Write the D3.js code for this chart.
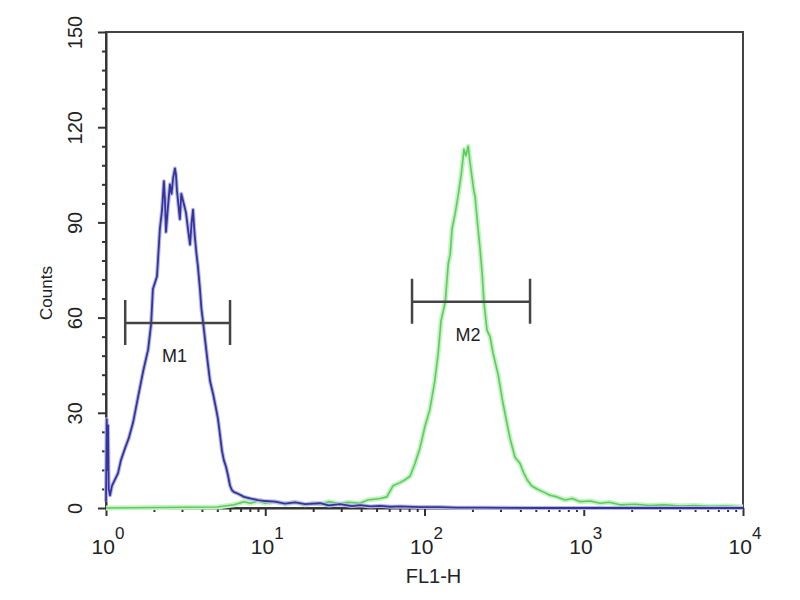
<!DOCTYPE html>
<html>
<head>
<meta charset="utf-8">
<script src="https://cdn.jsdelivr.net/npm/d3@7"></script>
<style>
  body { margin: 0; background: #fff; }
  svg { font-family: "Liberation Sans", Arial, sans-serif; }
  .axis path, .axis line { stroke: #333; stroke-width: 2px; }
  .axis text { fill: #222; font-size: 20px; }
</style>
</head>
<body>
<div id="chart-area"></div>
<script>
// FL1-H values (linear units) and counts
const blueFL = [1.00, 1.01, 1.02, 1.03, 1.04, 1.06, 1.09, 1.14, 1.19, 1.24, 1.32, 1.39, 1.48, 1.59, 1.71,
  1.84, 1.92, 1.97, 2.03, 2.09, 2.18, 2.25, 2.31, 2.35, 2.38, 2.45, 2.52, 2.58, 2.64, 2.71, 2.75, 2.79,
  2.83, 2.91, 2.97, 3.04, 3.11, 3.18, 3.27, 3.37, 3.45, 3.52, 3.58, 3.62, 3.70, 3.78, 3.89, 3.97, 4.06,
  4.19, 4.35, 4.50, 4.70, 4.88, 5.05, 5.20, 5.35, 5.50, 5.67, 5.85, 6.01, 6.20, 6.37, 6.75, 7.36, 8.02,
  9.0, 9.96, 11.5, 13.3, 15.4, 17.8, 22.1, 25, 29.5, 35, 39.4, 46, 52.6, 61, 70.2, 93.7, 125, 160, 223,
  531, 1265, 5370, 10000];
const blueCounts = [2, 28, 12, 26, 6, 4, 7, 9, 11, 15, 19, 22, 27, 35, 43,
  50, 58, 69, 71, 73, 88, 94, 103, 96, 87, 95, 102, 99, 104, 107, 105, 100,
  97, 91, 99, 97, 95, 93, 88, 83, 90, 94, 88, 85, 80, 76, 69, 63, 59,
  53, 46, 40, 36, 32, 28, 23, 18, 15, 13, 10, 7, 5.5, 5, 4.5, 3.5, 3,
  2.5, 2.2, 2, 1.4, 1.8, 1.2, 1.5, 0.8, 1.2, 0.6, 0.9, 0.5, 0.7, 0.4, 0.5, 0.3, 0.3, 0.1, 0.1,
  0, 0, 0, 0];

const greenFL = [1, 5, 6.37, 7.36, 8.02, 9.0, 9.96, 11.5, 13.3, 15.4, 17.8, 20, 22.1, 25, 29.5, 33,
  39.4, 44, 52.6, 58, 63.4, 70.2, 76, 81.1, 87.2, 93.7, 101, 108, 116, 122, 127, 131, 135, 141, 145,
  149, 156, 162, 170, 177, 182, 188, 193, 199, 204, 208, 214, 223, 230, 236, 247, 258, 269, 290, 311,
  344, 370, 398, 420, 440, 470, 509, 560, 614, 680, 763, 850, 947, 1100, 1265, 1450, 1690, 2100, 2607,
  3200, 4020, 5000, 6200, 8000, 10000];
const greenCounts = [0, 0.3, 1, 2, 1.5, 2.2, 1.5, 2, 1.2, 1.8, 1, 1.6, 1.2, 2, 1.3, 1.8,
  1.5, 2.5, 3, 3.5, 7, 8, 9, 10, 14, 19, 26, 31, 40, 49, 59, 62, 65, 77, 80,
  88, 93, 98, 105, 113, 111, 114, 109, 104, 100, 98, 91, 82, 74, 65, 56, 54, 49, 42, 33,
  22, 16, 14, 11, 9, 7, 6, 5, 4, 3.5, 2.5, 3, 2, 2.2, 1.5, 1.8, 1, 1.2, 0.8,
  1, 0.6, 0.8, 0.5, 0.6, 0.3];

// gate markers: name, from, to, level
const markerNames = ["M1", "M2"];
const markerFrom = [1.32, 83.5];
const markerTo = [6.01, 460];
const markerLevel = [58.3, 65];

const yTickValues = [0, 30, 60, 90, 120, 150];
const xDecades = [1, 10, 100, 1000, 10000];
const xExponents = ["0", "1", "2", "3", "4"];
const xLabel = "FL1-H";
const yLabel = "Counts";

const MARGIN = {LEFT: 106, RIGHT: 57, TOP: 32, BOTTOM: 92};
const WIDTH = 800 - MARGIN.LEFT - MARGIN.RIGHT;
const HEIGHT = 600 - MARGIN.TOP - MARGIN.BOTTOM;

const svg = d3.select("#chart-area").append("svg")
    .attr("width", 800)
    .attr("height", 600);
const graph = svg.append("g")
    .attr("transform", `translate(${MARGIN.LEFT}, ${MARGIN.TOP})`);

const x = d3.scaleLog().domain([1, 10000]).range([0, WIDTH]);
const y = d3.scaleLinear().domain([0, 150]).range([HEIGHT, 0]);

// frame (top + right)
graph.append("rect")
    .attr("width", WIDTH).attr("height", HEIGHT)
    .attr("fill", "none").attr("stroke", "#444").attr("stroke-width", 2);

// y axis: minor every 6, majors every 30
const yMinor = d3.range(0, 151, 6);
const yAxis = graph.append("g").attr("class", "axis")
    .call(d3.axisLeft(y).tickValues(yMinor).tickSize(4).tickSizeOuter(0)
        .tickFormat(d => yTickValues.includes(d) ? d : ""));
yAxis.selectAll(".tick line").attr("x2", d => yTickValues.includes(d) ? -8 : -4);
yAxis.selectAll(".tick text")
    .attr("transform", "rotate(-90)")
    .attr("x", 0).attr("y", -24).attr("dy", 0)
    .style("text-anchor", "middle");

// x axis: minor ticks 2..9 in each decade
const xMinor = [];
xDecades.slice(0, -1).forEach(dec => d3.range(1, 10).forEach(k => xMinor.push(dec * k)));
xMinor.push(10000);
const xAxis = graph.append("g").attr("class", "axis")
    .attr("transform", `translate(0, ${HEIGHT})`)
    .call(d3.axisBottom(x).tickValues(xMinor).tickSize(4).tickSizeOuter(0).tickFormat(""));
xAxis.selectAll(".tick line").attr("y2", d => xDecades.includes(d) ? 8 : 4);

const xLabels = graph.append("g").selectAll("text")
    .data(xDecades)
    .join("text")
    .attr("x", d => x(d) + 2)
    .attr("y", HEIGHT + 46)
    .attr("fill", "#222")
    .style("font-size", "21px")
    .style("text-anchor", "middle");
xLabels.append("tspan").text("10");
xLabels.append("tspan")
    .attr("dy", -15)
    .style("font-size", "17px")
    .text((d, i) => xExponents[i]);

// axis titles
graph.append("text")
    .attr("x", WIDTH / 2 + 9)
    .attr("y", HEIGHT + 75)
    .attr("fill", "#222")
    .style("font-size", "20px")
    .style("text-anchor", "middle")
    .text(xLabel);

graph.append("text")
    .attr("transform", "rotate(-90)")
    .attr("x", -(HEIGHT / 2 + 23))
    .attr("y", -54)
    .attr("fill", "#222")
    .style("font-size", "17px")
    .style("text-anchor", "middle")
    .text(yLabel);

// histograms
const line = d3.line()
    .x(d => x(d[0]))
    .y(d => y(d[1]));

const green = d3.zip(greenFL, greenCounts);
const blue = d3.zip(blueFL, blueCounts);

graph.append("path")
    .attr("d", line(green))
    .attr("fill", "none")
    .attr("stroke", "#c6f2c6")
    .attr("stroke-width", 5)
    .attr("stroke-linejoin", "round");
graph.append("path")
    .attr("d", line(green))
    .attr("fill", "none")
    .attr("stroke", "#5ccc5c")
    .attr("stroke-width", 1.6)
    .attr("stroke-linejoin", "round");

graph.append("path")
    .attr("d", line(blue))
    .attr("fill", "none")
    .attr("stroke", "#b8b8e6")
    .attr("stroke-width", 4)
    .attr("stroke-linejoin", "round");
graph.append("path")
    .attr("d", line(blue))
    .attr("fill", "none")
    .attr("stroke", "#34349a")
    .attr("stroke-width", 1.8)
    .attr("stroke-linejoin", "round");

// gate markers
const markers = graph.append("g").selectAll("g")
    .data(markerNames)
    .join("g")
    .attr("stroke", "#444")
    .attr("stroke-width", 2.5);
markers.append("line")
    .attr("x1", (d, i) => x(markerFrom[i])).attr("x2", (d, i) => x(markerTo[i]))
    .attr("y1", (d, i) => y(markerLevel[i])).attr("y2", (d, i) => y(markerLevel[i]));
markers.append("line")
    .attr("x1", (d, i) => x(markerFrom[i])).attr("x2", (d, i) => x(markerFrom[i]))
    .attr("y1", (d, i) => y(markerLevel[i]) - 23).attr("y2", (d, i) => y(markerLevel[i]) + 22);
markers.append("line")
    .attr("x1", (d, i) => x(markerTo[i])).attr("x2", (d, i) => x(markerTo[i]))
    .attr("y1", (d, i) => y(markerLevel[i]) - 23).attr("y2", (d, i) => y(markerLevel[i]) + 22);
markers.append("text")
    .attr("x", (d, i) => (x(markerFrom[i]) + x(markerTo[i])) / 2 - 3)
    .attr("y", (d, i) => y(markerLevel[i]) + 39)
    .attr("stroke", "none")
    .attr("fill", "#222")
    .style("font-size", "18px")
    .style("text-anchor", "middle")
    .text(d => d);
</script>
</body>
</html>
